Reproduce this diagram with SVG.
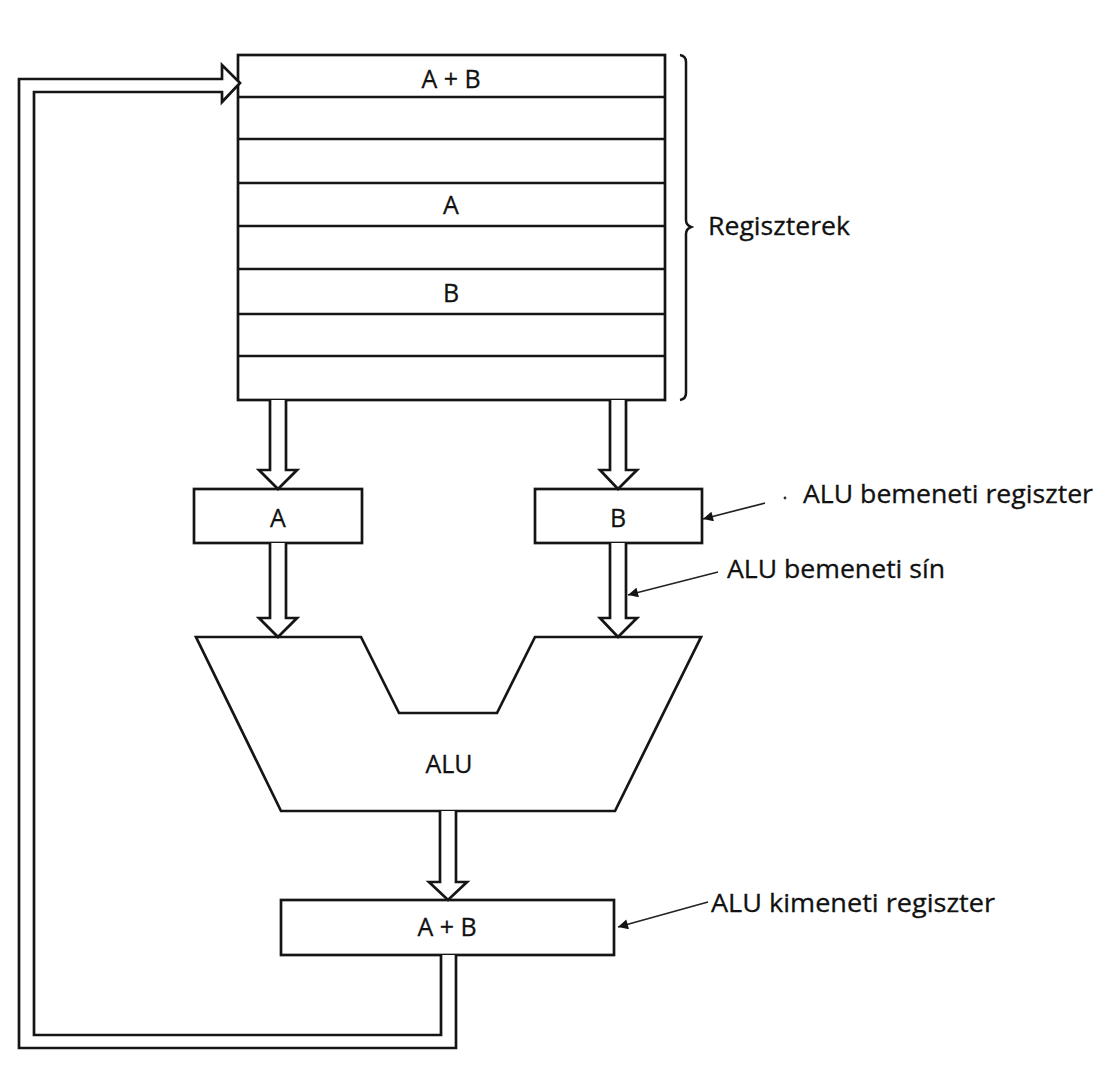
<svg xmlns="http://www.w3.org/2000/svg" width="1120" height="1072" viewBox="0 0 1120 1072">
<style>
.s{fill:#fff;stroke:#151515;stroke-width:2.7;stroke-linejoin:miter}
.ln{fill:none;stroke:#151515;stroke-width:2.5}
.ld{fill:none;stroke:#222;stroke-width:1.7}
.t{font-family:"Open Sans","Liberation Sans",sans-serif;font-size:25px;fill:#111;stroke:#111;stroke-width:0.3}
.c{text-anchor:middle}
</style>
<defs>
<marker id="ah" viewBox="0 0 10 10" refX="10" refY="5" markerWidth="11" markerHeight="10" markerUnits="userSpaceOnUse" orient="auto">
<path d="M0,0 L10,5 L0,10 z" fill="#151515"/>
</marker>
</defs>
<rect width="1120" height="1072" fill="#fff"/>

<g id="registers">
<rect class="s" x="238" y="55" width="427" height="345"/>
<path class="ln" d="M238 97H665M238 139H665M238 183H665M238 226H665M238 269H665M238 314H665M238 356H665"/>
<text class="t c" x="451" y="88">A + B</text>
<text class="t c" x="451" y="214">A</text>
<text class="t c" x="451" y="302">B</text>
</g>

<g id="brace">
<path class="ln" stroke-width="1.9" d="M680 55 Q686 56 686 62 V220 Q686 225 691 227 Q686 229 686 234 V393 Q686 399 680 400"/>
<text class="t" x="708" y="235" textLength="142" lengthAdjust="spacingAndGlyphs">Regiszterek</text>
</g>

<g id="regA">
<rect class="s" x="194" y="489" width="168" height="54"/>
<text class="t c" x="278" y="527">A</text>
</g>

<g id="regB">
<rect class="s" x="535" y="489" width="167" height="54"/>
<text class="t c" x="618" y="527">B</text>
</g>

<g id="alu">
<path class="s" d="M196 637 H361 L399 713 H497 L535 637 H701 L615 811 H281 Z"/>
<text class="t c" x="449" y="773">ALU</text>
</g>

<g id="regOut">
<rect class="s" x="281" y="900" width="333" height="55"/>
<text class="t c" x="447" y="936">A + B</text>
</g>

<g id="connectors">
<path class="s" d="M270 400 V470 H259 L278 489 L297 470 H286 V400"/>
<path class="s" d="M610 400 V470 H600 L618 489 L637 470 H626 V400"/>
<path class="s" d="M270 543 V618 H259 L278 637 L297 618 H286 V543"/>
<path class="s" d="M610 543 V618 H600 L618 637 L637 618 H626 V543"/>
<path class="s" d="M440 811 V882 H429 L448 900 L467 882 H456 V811"/>
<path class="s" fill="none" d="M441 955 V1035 H34 V92 H222 V102 L240 83 L222 65 V79 H19 V1048 H456 V955"/>
<path class="ld" marker-end="url(#ah)" d="M765 503 L703 519"/>
<path class="ld" marker-end="url(#ah)" d="M718 572 L628 595"/>
<path class="ld" marker-end="url(#ah)" d="M708 902 L618 927"/>
</g>

<g id="labels">
<circle cx="785" cy="498" r="1.4" fill="#333"/>
<text class="t" x="803" y="503" textLength="290" lengthAdjust="spacingAndGlyphs">ALU bemeneti regiszter</text>
<text class="t" x="727" y="578" textLength="218" lengthAdjust="spacingAndGlyphs">ALU bemeneti sín</text>
<text class="t" x="711" y="912" textLength="284" lengthAdjust="spacingAndGlyphs">ALU kimeneti regiszter</text>
</g>
</svg>
